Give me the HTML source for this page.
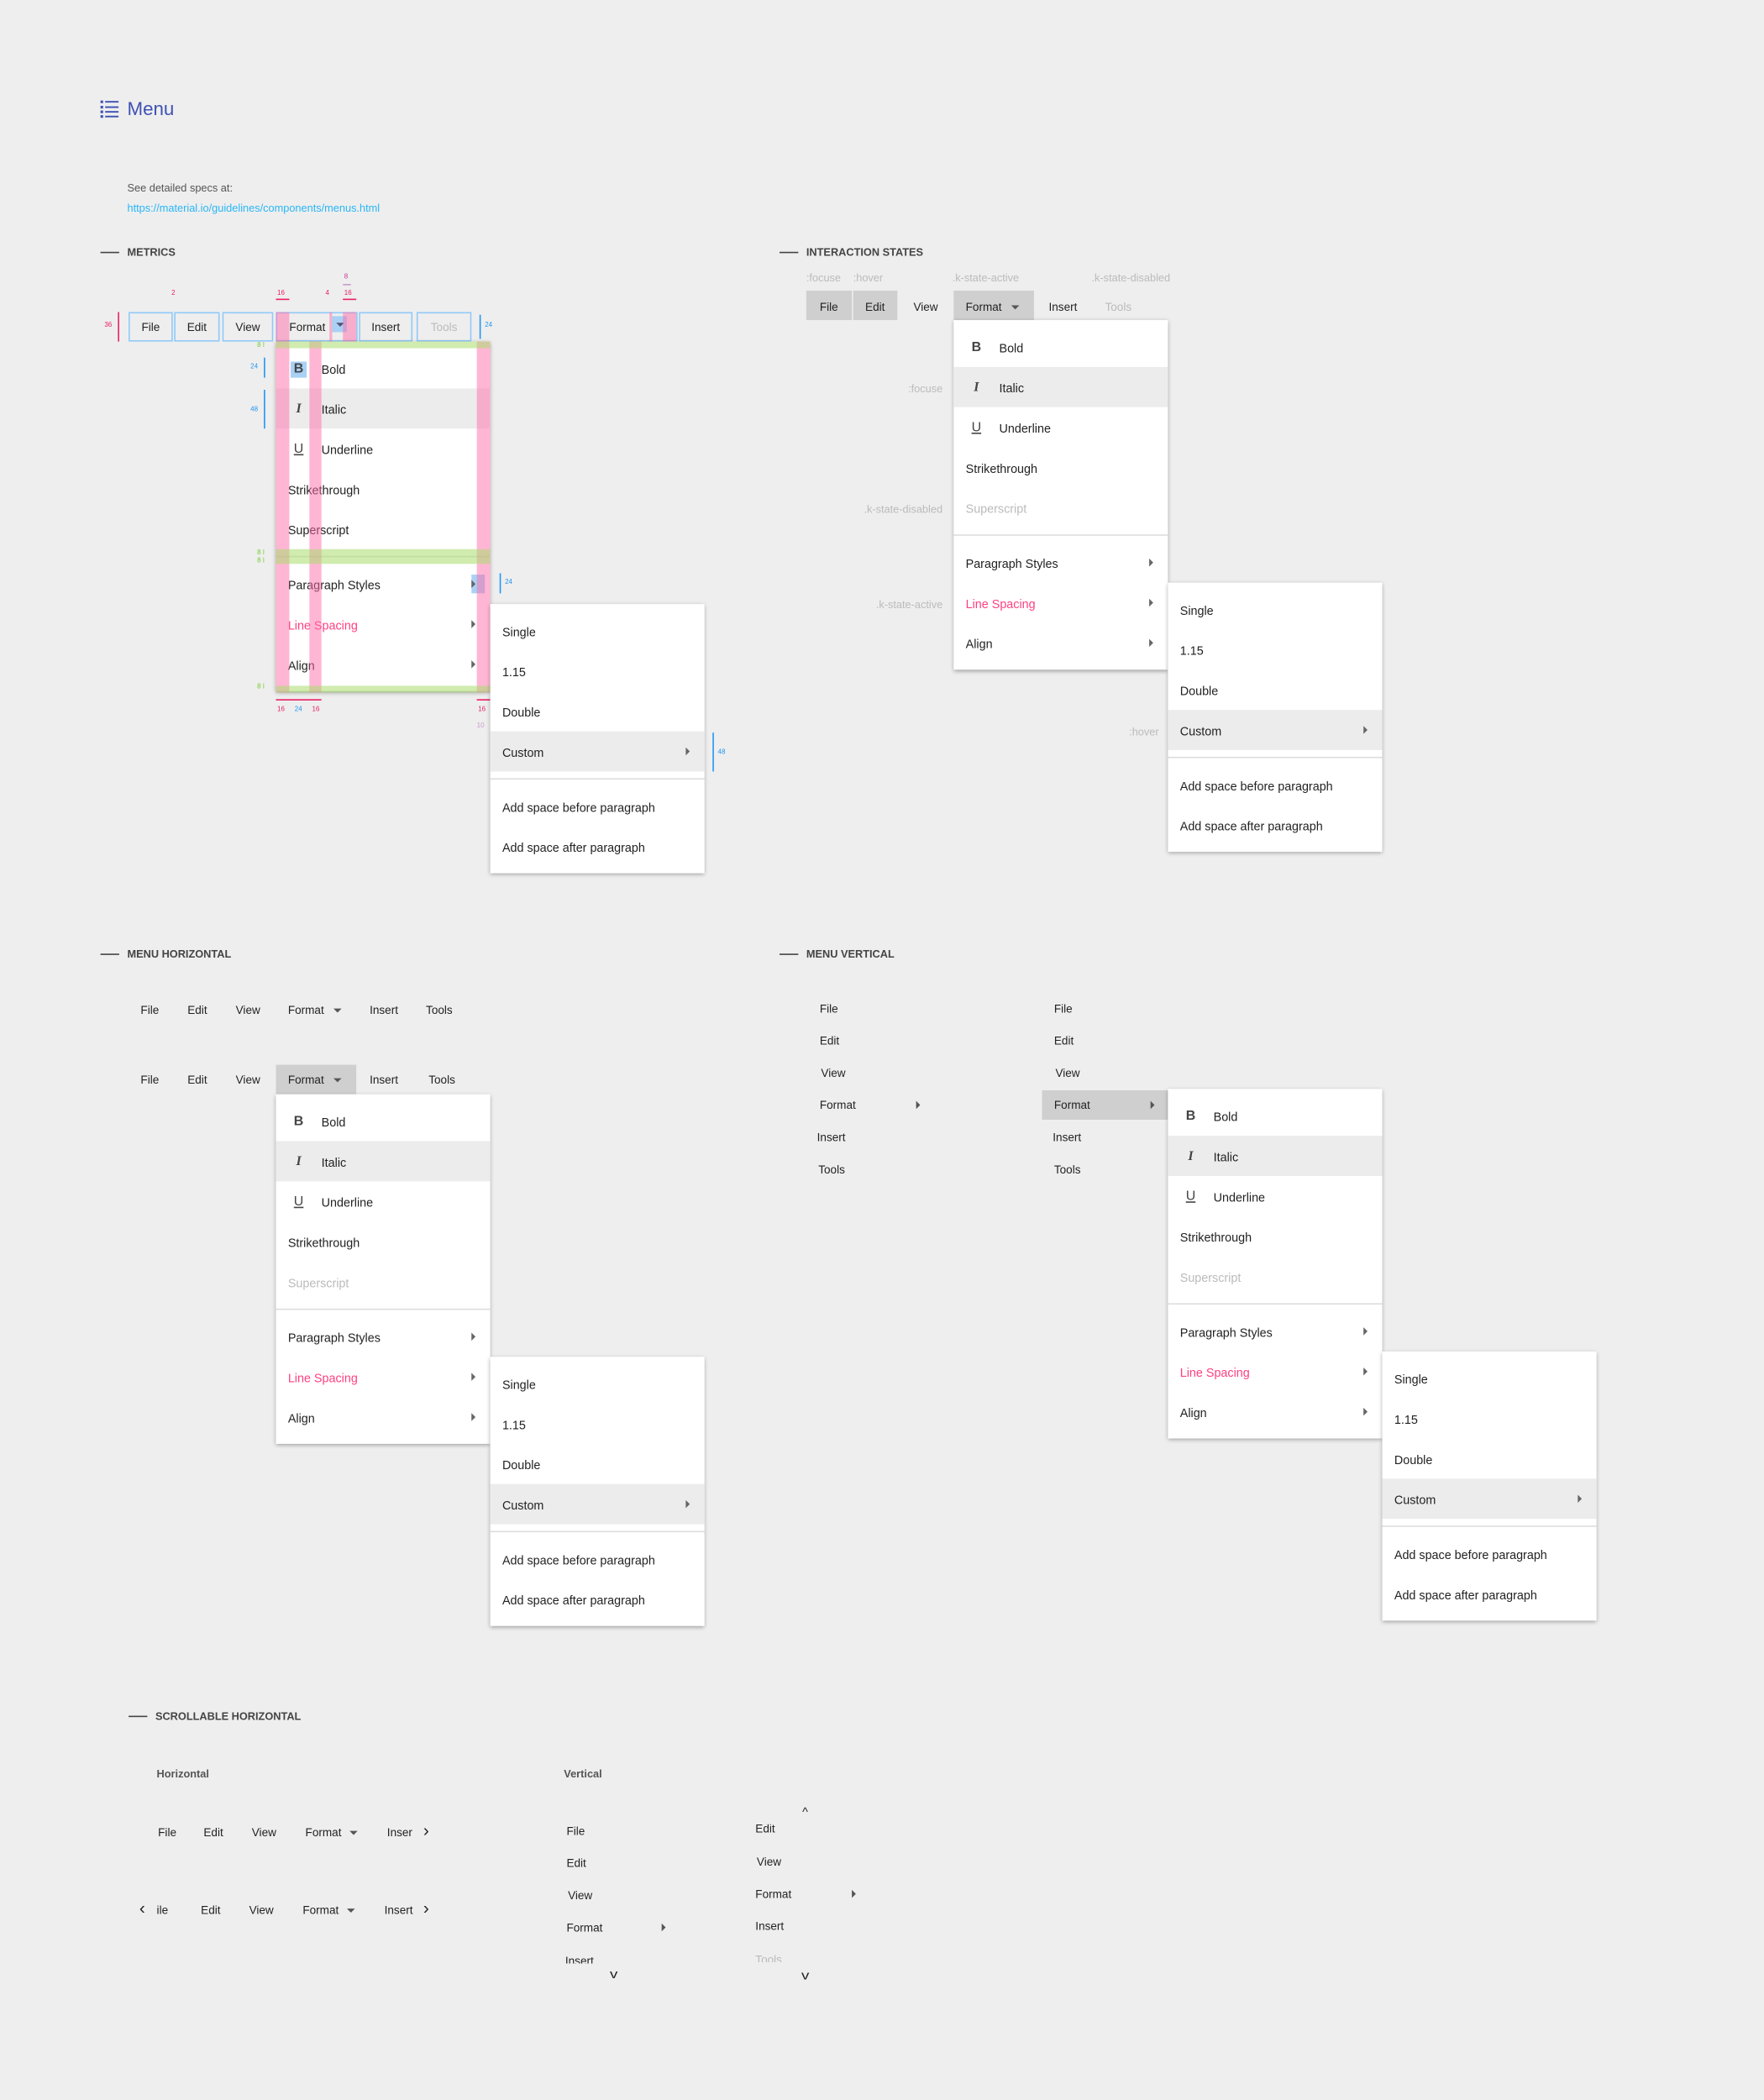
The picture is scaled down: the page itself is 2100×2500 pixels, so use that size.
<!DOCTYPE html>
<html><head><meta charset="utf-8"><style>
html,body{margin:0;padding:0;background:#eeeeee;width:2100px;height:2500px;overflow:hidden}
#w{position:absolute;left:0;top:0;width:1317px;height:1568px;transform:scale(1.5945);transform-origin:0 0;font-family:"Liberation Sans",sans-serif;color:#222}
.t{position:absolute;font-size:8.5px;line-height:12px;white-space:nowrap;transform:translateY(-50%)}
.g{color:#bbb}
.h{position:absolute;font-size:8px;font-weight:bold;color:#444;white-space:nowrap;line-height:10px;transform:translateY(-50%)}
.hl{position:absolute;height:1.3px;width:14px;background:#444}
.menu{position:absolute;width:160px;background:#fff;box-shadow:0 1px 3px rgba(0,0,0,.35);padding:5px 0;font-size:9px}
.r{position:relative;height:30px;line-height:32px;padding-left:9px;white-space:nowrap}
.r.i{padding-left:34px}
.r.hv{background:#ececec}
.ic{position:absolute;left:11px;top:10px;width:12px;height:12px;line-height:12px;text-align:center;color:#444;font-weight:bold;font-size:10px}
.dv{height:1px;background:#ddd;margin:5px 0}
.ar{position:absolute;right:11px;top:12px;width:0;height:0;border-top:3px solid transparent;border-bottom:3px solid transparent;border-left:3px solid #666}
.pk{color:#ff4081}
.dis{color:#bbb}
.bx{position:absolute;height:22px;box-sizing:border-box;border:1px solid #90caf9;font-size:8.5px;line-height:20px;text-align:center}
.gb{position:absolute;background:#cfcfcf;height:22px}
.car{display:inline-block;width:0;height:0;border-left:3px solid transparent;border-right:3px solid transparent;border-top:3px solid #555;vertical-align:middle;margin-left:4px}
.ov{position:absolute;background:rgba(255,110,170,.5)}
.gn{position:absolute;background:rgba(170,220,110,.55)}
.num{position:absolute;font-size:5px;line-height:6px;white-space:nowrap}
</style></head><body><div id="w">

<svg style="position:absolute;left:75px;top:75px" width="14" height="13"><g fill="#3f51b5"><rect x="0" y="0" width="2" height="2"/><rect x="0" y="4" width="2" height="2"/><rect x="0" y="7.5" width="2" height="2"/><rect x="0" y="11" width="2" height="2"/><rect x="3.5" y="0.4" width="10" height="1.2"/><rect x="3.5" y="4.4" width="10" height="1.2"/><rect x="3.5" y="7.9" width="10" height="1.2"/><rect x="3.5" y="11.4" width="10" height="1.2"/></g></svg>
<div class="t" style="left:95px;top:81px;font-size:14px;line-height:18px;color:#3f51b5">Menu</div>
<div class="t" style="left:95px;top:141px;font-size:8px;color:#555">See detailed specs at:</div>
<div class="t" style="left:95px;top:156px;font-size:8px;color:#29b6f6">https://material.io/guidelines/components/menus.html</div>

<div class="hl" style="left:75px;top:188px"></div><div class="h" style="left:95px;top:189px">METRICS</div>
<div class="hl" style="left:582px;top:188px"></div><div class="h" style="left:602px;top:189px">INTERACTION STATES</div>
<div class="hl" style="left:75px;top:712px"></div><div class="h" style="left:95px;top:713px">MENU HORIZONTAL</div>
<div class="hl" style="left:582px;top:712px"></div><div class="h" style="left:602px;top:713px">MENU VERTICAL</div>
<div class="hl" style="left:96px;top:1281px"></div><div class="h" style="left:116px;top:1282px">SCROLLABLE HORIZONTAL</div>

<div class="bx" style="left:96px;top:233px;width:33px">File</div>
<div class="bx" style="left:130px;top:233px;width:34px">Edit</div>
<div class="bx" style="left:166px;top:233px;width:38px">View</div>
<div class="bx" style="left:206px;top:233px;width:61px;text-align:left;padding-left:9px">Format</div>
<div style="position:absolute;left:248px;top:236px;width:11px;height:12px;background:#a9d1f5"></div>
<div style="position:absolute;left:251px;top:241px;border-left:3px solid transparent;border-right:3px solid transparent;border-top:3px solid #557"></div>
<div class="bx" style="left:268px;top:233px;width:40px">Insert</div>
<div class="bx" style="left:311px;top:233px;width:41px;color:#bbb">Tools</div>
<div class="ov" style="left:206px;top:233px;width:10px;height:22px"></div>
<div class="ov" style="left:256px;top:233px;width:10px;height:22px"></div>
<div class="ov" style="left:246px;top:233px;width:2px;height:22px"></div>
<div style="position:absolute;left:88px;top:233px;width:1px;height:22px;background:#e91e63"></div>
<div class="num" style="left:78px;top:240px;color:#e91e63">36</div>
<div style="position:absolute;left:358px;top:235px;width:1px;height:18px;background:#2196f3"></div>
<div class="num" style="left:362px;top:240px;color:#2196f3">24</div>
<div class="num" style="left:128px;top:216px;color:#e91e63">2</div>
<div class="num" style="left:207px;top:216px;color:#e91e63">16</div>
<div class="num" style="left:243px;top:216px;color:#e91e63">4</div>
<div class="num" style="left:257px;top:216px;color:#e91e63">16</div>
<div class="num" style="left:257px;top:204px;color:#c39">8</div>
<div style="position:absolute;left:206px;top:223px;width:10px;height:1px;background:#e91e63"></div>
<div style="position:absolute;left:256px;top:223px;width:10px;height:1px;background:#e91e63"></div>
<div style="position:absolute;left:256px;top:212px;width:6px;height:1px;background:#c9c"></div>

<div class="menu" style="left:206px;top:255px">
<div class="r i"><span class="ic" style="background:#a9d1f5">B</span>Bold</div>
<div class="r i hv"><span class="ic" style="font-style:italic;font-family:'Liberation Serif',serif">I</span>Italic</div>
<div class="r i"><span class="ic" style="text-decoration:underline;font-weight:normal">U</span>Underline</div>
<div class="r">Strikethrough</div>
<div class="r">Superscript</div>
<div class="dv"></div>
<div class="r">Paragraph Styles<span style="position:absolute;right:4px;top:8px;width:10px;height:14px;background:#a9d1f5"></span><span class="ar"></span></div>
<div class="r pk">Line Spacing<span class="ar"></span></div>
<div class="r">Align<span class="ar"></span></div>
</div>
<div class="ov" style="left:206px;top:255px;width:10px;height:262px"></div>
<div class="ov" style="left:231px;top:255px;width:9px;height:262px"></div>
<div class="ov" style="left:356px;top:255px;width:10px;height:262px"></div>
<div class="gn" style="left:206px;top:255px;width:160px;height:5px"></div>
<div class="gn" style="left:206px;top:410px;width:160px;height:11px"></div>
<div class="gn" style="left:206px;top:512px;width:160px;height:5px"></div>
<div style="position:absolute;left:197px;top:267px;width:1px;height:15px;background:#2196f3"></div>
<div class="num" style="left:187px;top:271px;color:#2196f3">24</div>
<div style="position:absolute;left:197px;top:291px;width:1px;height:29px;background:#2196f3"></div>
<div class="num" style="left:187px;top:303px;color:#2196f3">48</div>
<div class="num" style="left:192px;top:255px;color:#7c3">8 I</div>
<div class="num" style="left:192px;top:410px;color:#7c3">8 I<br>8 I</div>
<div class="num" style="left:192px;top:510px;color:#7c3">8 I</div>
<div style="position:absolute;left:373px;top:428px;width:1px;height:15px;background:#2196f3"></div>
<div class="num" style="left:377px;top:432px;color:#2196f3">24</div>
<div style="position:absolute;left:206px;top:522px;width:34px;height:1px;background:#e91e63"></div>
<div class="num" style="left:207px;top:527px;color:#e91e63">16</div>
<div class="num" style="left:220px;top:527px;color:#2196f3">24</div>
<div class="num" style="left:233px;top:527px;color:#e91e63">16</div>
<div style="position:absolute;left:356px;top:522px;width:10px;height:1px;background:#e91e63"></div>
<div class="num" style="left:357px;top:527px;color:#e91e63">16</div>
<div class="num" style="left:356px;top:539px;color:#c9c">10</div>

<div class="menu" style="left:366px;top:451px">
<div class="r">Single</div><div class="r">1.15</div><div class="r">Double</div>
<div class="r hv">Custom<span class="ar"></span></div>
<div class="dv"></div>
<div class="r">Add space before paragraph</div><div class="r">Add space after paragraph</div>
</div>
<div style="position:absolute;left:532px;top:547px;width:1px;height:29px;background:#2196f3"></div>
<div class="num" style="left:536px;top:559px;color:#2196f3">48</div>

<div class="t g" style="left:602px;top:208px;font-size:8px">:focuse</div>
<div class="t g" style="left:637px;top:208px;font-size:8px">:hover</div>
<div class="t g" style="left:711px;top:208px;font-size:8px">.k-state-active</div>
<div class="t g" style="left:815px;top:208px;font-size:8px">.k-state-disabled</div>
<div class="gb" style="left:602px;top:217px;width:34px"></div>
<div class="gb" style="left:637px;top:217px;width:33px"></div>
<div class="gb" style="left:712px;top:217px;width:60px"></div>
<div class="t" style="left:612px;top:229px">File</div>
<div class="t" style="left:646px;top:229px">Edit</div>
<div class="t" style="left:682px;top:229px">View</div>
<div class="t" style="left:721px;top:229px">Format<span class="car" style="margin-left:7px"></span></div>
<div class="t" style="left:783px;top:229px">Insert</div>
<div class="t g" style="left:825px;top:229px">Tools</div>
<div class="t g" style="left:678px;top:291px;font-size:8px">:focuse</div>
<div class="t g" style="left:645px;top:381px;font-size:8px">.k-state-disabled</div>
<div class="t g" style="left:654px;top:452px;font-size:8px">.k-state-active</div>
<div class="t g" style="left:843px;top:547px;font-size:8px">:hover</div>
<div class="menu" style="left:712px;top:239px">
<div class="r i"><span class="ic">B</span>Bold</div>
<div class="r i hv"><span class="ic" style="font-style:italic;font-family:'Liberation Serif',serif">I</span>Italic</div>
<div class="r i"><span class="ic" style="text-decoration:underline;font-weight:normal">U</span>Underline</div>
<div class="r">Strikethrough</div>
<div class="r dis">Superscript</div>
<div class="dv"></div>
<div class="r">Paragraph Styles<span class="ar"></span></div>
<div class="r pk">Line Spacing<span class="ar"></span></div>
<div class="r">Align<span class="ar"></span></div>
</div>
<div class="menu" style="left:872px;top:435px">
<div class="r">Single</div><div class="r">1.15</div><div class="r">Double</div>
<div class="r hv">Custom<span class="ar"></span></div>
<div class="dv"></div>
<div class="r">Add space before paragraph</div><div class="r">Add space after paragraph</div>
</div>

<div class="t" style="left:105px;top:754px">File</div>
<div class="t" style="left:140px;top:754px">Edit</div>
<div class="t" style="left:176px;top:754px">View</div>
<div class="t" style="left:215px;top:754px">Format<span class="car" style="margin-left:7px"></span></div>
<div class="t" style="left:276px;top:754px">Insert</div>
<div class="t" style="left:318px;top:754px">Tools</div>
<div class="gb" style="left:206px;top:795px;width:60px"></div>
<div class="t" style="left:105px;top:806px">File</div>
<div class="t" style="left:140px;top:806px">Edit</div>
<div class="t" style="left:176px;top:806px">View</div>
<div class="t" style="left:215px;top:806px">Format<span class="car" style="margin-left:7px"></span></div>
<div class="t" style="left:276px;top:806px">Insert</div>
<div class="t" style="left:320px;top:806px">Tools</div>
<div class="menu" style="left:206px;top:817px">
<div class="r i"><span class="ic">B</span>Bold</div>
<div class="r i hv"><span class="ic" style="font-style:italic;font-family:'Liberation Serif',serif">I</span>Italic</div>
<div class="r i"><span class="ic" style="text-decoration:underline;font-weight:normal">U</span>Underline</div>
<div class="r">Strikethrough</div>
<div class="r dis">Superscript</div>
<div class="dv"></div>
<div class="r">Paragraph Styles<span class="ar"></span></div>
<div class="r pk">Line Spacing<span class="ar"></span></div>
<div class="r">Align<span class="ar"></span></div>
</div>
<div class="menu" style="left:366px;top:1013px">
<div class="r">Single</div><div class="r">1.15</div><div class="r">Double</div>
<div class="r hv">Custom<span class="ar"></span></div>
<div class="dv"></div>
<div class="r">Add space before paragraph</div><div class="r">Add space after paragraph</div>
</div>

<div class="t" style="left:612px;top:753px">File</div>
<div class="t" style="left:612px;top:777px">Edit</div>
<div class="t" style="left:613px;top:801px">View</div>
<div class="t" style="left:612px;top:825px">Format</div>
<div style="position:absolute;left:684px;top:822px;border-top:3px solid transparent;border-bottom:3px solid transparent;border-left:3px solid #555"></div>
<div class="t" style="left:610px;top:849px">Insert</div>
<div class="t" style="left:611px;top:873px">Tools</div>
<div class="gb" style="left:778px;top:814px;width:94px"></div>
<div class="t" style="left:787px;top:753px">File</div>
<div class="t" style="left:787px;top:777px">Edit</div>
<div class="t" style="left:788px;top:801px">View</div>
<div class="t" style="left:787px;top:825px">Format</div>
<div style="position:absolute;left:859px;top:822px;border-top:3px solid transparent;border-bottom:3px solid transparent;border-left:3px solid #555"></div>
<div class="t" style="left:786px;top:849px">Insert</div>
<div class="t" style="left:787px;top:873px">Tools</div>
<div class="menu" style="left:872px;top:813px">
<div class="r i"><span class="ic">B</span>Bold</div>
<div class="r i hv"><span class="ic" style="font-style:italic;font-family:'Liberation Serif',serif">I</span>Italic</div>
<div class="r i"><span class="ic" style="text-decoration:underline;font-weight:normal">U</span>Underline</div>
<div class="r">Strikethrough</div>
<div class="r dis">Superscript</div>
<div class="dv"></div>
<div class="r">Paragraph Styles<span class="ar"></span></div>
<div class="r pk">Line Spacing<span class="ar"></span></div>
<div class="r">Align<span class="ar"></span></div>
</div>
<div class="menu" style="left:1032px;top:1009px">
<div class="r">Single</div><div class="r">1.15</div><div class="r">Double</div>
<div class="r hv">Custom<span class="ar"></span></div>
<div class="dv"></div>
<div class="r">Add space before paragraph</div><div class="r">Add space after paragraph</div>
</div>

<div class="t" style="left:117px;top:1325px;font-size:8px;color:#555;font-weight:bold">Horizontal</div>
<div class="t" style="left:421px;top:1325px;font-size:8px;color:#555;font-weight:bold">Vertical</div>
<div class="t" style="left:118px;top:1368px">File</div>
<div class="t" style="left:152px;top:1368px">Edit</div>
<div class="t" style="left:188px;top:1368px">View</div>
<div class="t" style="left:228px;top:1368px">Format<span class="car" style="margin-left:6px"></span></div>
<div class="t" style="left:289px;top:1368px">Inser</div>
<div class="t" style="left:316px;top:1367px;font-size:13px;line-height:14px">›</div>
<div class="t" style="left:104px;top:1425px;font-size:13px;line-height:14px">‹</div>
<div class="t" style="left:117px;top:1426px">ile</div>
<div class="t" style="left:150px;top:1426px">Edit</div>
<div class="t" style="left:186px;top:1426px">View</div>
<div class="t" style="left:226px;top:1426px">Format<span class="car" style="margin-left:6px"></span></div>
<div class="t" style="left:287px;top:1426px">Insert</div>
<div class="t" style="left:316px;top:1425px;font-size:13px;line-height:14px">›</div>
<div class="t" style="left:423px;top:1367px">File</div>
<div class="t" style="left:423px;top:1391px">Edit</div>
<div class="t" style="left:424px;top:1415px">View</div>
<div class="t" style="left:423px;top:1439px">Format</div>
<div style="position:absolute;left:494px;top:1436px;border-top:3px solid transparent;border-bottom:3px solid transparent;border-left:3px solid #555"></div>
<div style="position:absolute;left:422px;top:1458px;width:50px;height:8px;overflow:hidden"><div style="font-size:8.5px;line-height:12px;margin-top:0">Insert</div></div>
<div class="t" style="left:456px;top:1474px;font-size:9px;transform:translateY(-50%) scaleX(1.3)">v</div>
<div class="t" style="left:599px;top:1353px;font-size:9px">^</div>
<div style="position:absolute;left:564px;top:1362px;width:50px;height:9px;overflow:hidden"><div style="font-size:8.5px;line-height:12px;margin-top:-3px">Edit</div></div>
<div class="t" style="left:565px;top:1390px">View</div>
<div class="t" style="left:564px;top:1414px">Format</div>
<div style="position:absolute;left:636px;top:1411px;border-top:3px solid transparent;border-bottom:3px solid transparent;border-left:3px solid #555"></div>
<div class="t" style="left:564px;top:1438px">Insert</div>
<div style="position:absolute;left:564px;top:1457px;width:50px;height:8px;overflow:hidden"><div style="font-size:8.5px;line-height:12px;color:#bbb">Tools</div></div>
<div class="t" style="left:599px;top:1475px;font-size:9px;transform:translateY(-50%) scaleX(1.3)">v</div>

</div></body></html>
